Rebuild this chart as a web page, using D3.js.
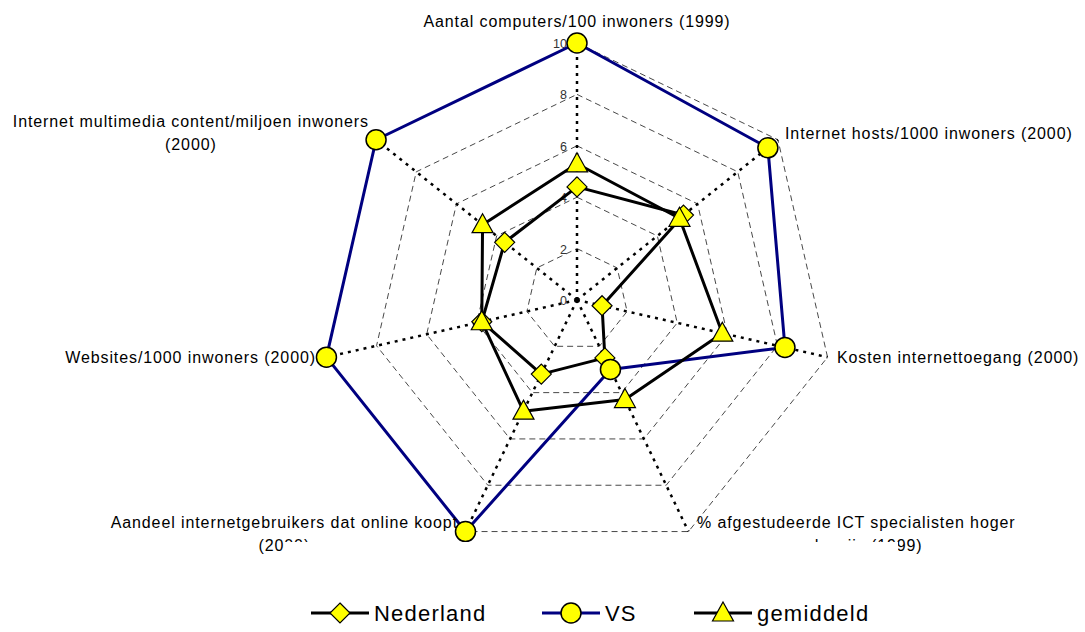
<!DOCTYPE html>
<html>
<head>
<meta charset="utf-8">
<script src="https://cdn.jsdelivr.net/npm/d3@7"></script>
<style>
  body { margin: 0; background: #fff; }
  svg { display: block; font-family: "Liberation Sans", Arial, sans-serif; }
</style>
</head>
<body>
<svg id="chart" width="1085" height="632"></svg>
<script>
// axes, clockwise from the top
var axes = ["Aantal computers/100 inwoners (1999)",
            "Internet hosts/1000 inwoners (2000)",
            "Kosten internettoegang (2000)",
            "% afgestudeerde ICT specialisten hoger onderwijs (1999)",
            "Aandeel internetgebruikers dat online koopt (2000)",
            "Websites/1000 inwoners (2000)",
            "Internet multimedia content/miljoen inwoners (2000)"];

var nederland = [4.4, 5.3, 1.0, 2.5, 3.2, 3.8, 3.6];
var vs        = [10, 9.5, 8.3, 3.0, 10, 10, 10];
var gemiddeld = [5.3, 5.1, 5.8, 4.3, 4.8, 3.8, 4.7];

var ticks = [0, 2, 4, 6, 8, 10];

var cx = 577, cy = 300, R = 257;

var svg = d3.select("#chart");

var r = d3.scaleLinear().domain([0, 10]).range([0, R]);
var angle = d3.scalePoint().domain(d3.range(axes.length)).range([0, 2 * Math.PI * (axes.length - 1) / axes.length]);

var pt = function(i, v) {
    var a = angle(i);
    return [cx + Math.sin(a) * r(v), cy - Math.cos(a) * r(v)];
};

var line = d3.line();

// grid rings
var grid = svg.append("g");
ticks.filter(function(t) { return t > 0; }).forEach(function(t) {
    var pts = axes.map(function(a, i) { return pt(i, t); });
    pts.push(pts[0]);
    grid.append("path")
        .attr("d", line(pts))
        .attr("fill", "none")
        .attr("stroke", "#333")
        .attr("stroke-width", 0.9)
        .attr("stroke-dasharray", "6,4");
});

// spokes
axes.forEach(function(a, i) {
    var p = pt(i, 10);
    grid.append("line")
        .attr("x1", cx).attr("y1", cy)
        .attr("x2", p[0]).attr("y2", p[1])
        .attr("stroke", "#000")
        .attr("stroke-width", 2.5)
        .attr("stroke-dasharray", "3,5");
});

// tick labels
svg.append("g").selectAll("text")
    .data(ticks)
    .enter().append("text")
    .attr("x", cx - 10)
    .attr("y", function(d) { return cy - r(d) + 5; })
    .attr("text-anchor", "end")
    .attr("font-size", 12.5)
    .attr("fill", "#333")
    .text(function(d) { return d; });

// markers
var diamond = function(g, x, y) {
    g.append("path")
        .attr("d", "M" + x + "," + (y - 10) + "L" + (x + 10) + "," + y + "L" + x + "," + (y + 10) + "L" + (x - 10) + "," + y + "Z")
        .attr("fill", "#ffff00").attr("stroke", "#000").attr("stroke-width", 1.2);
};
var circle = function(g, x, y) {
    g.append("circle")
        .attr("cx", x).attr("cy", y).attr("r", 10)
        .attr("fill", "#ffff00").attr("stroke", "#000").attr("stroke-width", 1.5);
};
var triangle = function(g, x, y) {
    g.append("path")
        .attr("d", "M" + x + "," + (y - 11) + "L" + (x + 10.5) + "," + (y + 8) + "L" + (x - 10.5) + "," + (y + 8) + "Z")
        .attr("fill", "#ffff00").attr("stroke", "#000").attr("stroke-width", 1.2);
};

var series = [
    {name: "Nederland", values: nederland, color: "#000", marker: diamond},
    {name: "VS", values: vs, color: "#000080", marker: circle},
    {name: "gemiddeld", values: gemiddeld, color: "#000", marker: triangle}
];

series.forEach(function(s) {
    var g = svg.append("g");
    var pts = s.values.map(function(v, i) { return pt(i, v); });
    g.append("path")
        .attr("d", line(pts.concat([pts[0]])))
        .attr("fill", "none")
        .attr("stroke", s.color)
        .attr("stroke-width", 3)
        .attr("stroke-linejoin", "round");
    pts.forEach(function(p) { s.marker(g, p[0], p[1]); });
});

// axis labels
var labels = [
    {lines: ["Aantal computers/100 inwoners (1999)"], x: 577, y: 27, anchor: "middle"},
    {lines: ["Internet hosts/1000 inwoners (2000)"], x: 785, y: 139, anchor: "start"},
    {lines: ["Kosten internettoegang (2000)"], x: 837, y: 363, anchor: "start"},
    {lines: ["% afgestudeerde ICT specialisten hoger", "onderwijs (1999)"], x: 697, y: 528, anchor: "start"},
    {lines: ["Aandeel internetgebruikers dat online koopt", "(2000)"], x: 458, y: 528, anchor: "end"},
    {lines: ["Websites/1000 inwoners (2000)"], x: 316, y: 363, anchor: "end"},
    {lines: ["Internet multimedia content/miljoen inwoners", "(2000)"], x: 369, y: 127, anchor: "end"}
];

var lab = svg.append("g").attr("font-size", 16).attr("letter-spacing", 0.9).attr("fill", "#000");
labels.forEach(function(l) {
    var t = lab.append("text")
        .attr("x", l.x).attr("y", l.y)
        .attr("text-anchor", l.anchor)
        .text(l.lines[0]);
    if (l.lines.length > 1) {
        var w = t.node().getComputedTextLength();
        var mid = l.anchor === "start" ? l.x + w / 2 : l.x - w / 2;
        lab.append("text")
            .attr("x", mid).attr("y", l.y + 23)
            .attr("text-anchor", "middle")
            .text(l.lines[1]);
    }
});

// plot area edge hides part of the second lines
svg.append("rect")
    .attr("x", 284).attr("y", 542)
    .attr("width", 614).attr("height", 22)
    .attr("fill", "#fff");

// legend
var legend = svg.append("g");
var lx = [311, 542, 694];
series.forEach(function(s, i) {
    var x = lx[i];
    legend.append("line")
        .attr("x1", x).attr("x2", x + 58)
        .attr("y1", 613).attr("y2", 613)
        .attr("stroke", s.color).attr("stroke-width", 3);
    s.marker(legend, x + 29, 613);
    legend.append("text")
        .attr("x", x + 63).attr("y", 621)
        .attr("font-size", 22)
        .attr("letter-spacing", 1.2)
        .text(s.name);
});
</script>
</body>
</html>
